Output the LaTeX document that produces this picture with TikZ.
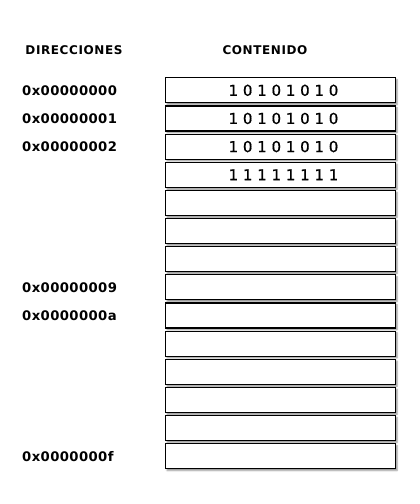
\documentclass[tikz,border=0pt]{standalone}
\usepackage{fontspec}
\setmainfont{DejaVu Sans}
\newfontfamily\dirfont[LetterSpace=3]{DejaVu Sans Bold}
\newfontfamily\cabfont[LetterSpace=5]{DejaVu Sans Bold}
\newfontfamily\bitsfont[FakeBold=0.6]{DejaVu Sans}
\usetikzlibrary{positioning, shadows.blur}

\tikzset{
  celda/.style={draw=black, line width=1.1pt, fill=white, inner sep=0pt,
    minimum width=230pt, minimum height=25pt,
    blur shadow={shadow xshift=1.5pt, shadow yshift=-1.8pt,
      shadow blur radius=1.6pt, shadow opacity=45}},
  bits/.style={inner sep=0pt, font=\bitsfont\fontsize{15pt}{17pt}\selectfont},
  dir/.style={inner sep=0pt, anchor=west, text height=9.5pt, text depth=0pt,
    font=\dirfont\fontsize{13.2pt}{15pt}\selectfont},
  cabecera/.style={inner sep=0pt, text height=8.7pt, text depth=0pt,
    font=\cabfont\fontsize{12pt}{14pt}\selectfont}
}

\begin{document}
\begin{tikzpicture}[x=1pt,y=-1pt]
\useasboundingbox (0,0) rectangle (420,504);

% Cabeceras
\node[cabecera] (direcciones) at (74,50) {DIRECCIONES};
\node[cabecera] (contenido) at (265,50.5) {CONTENIDO};

% Celdas de memoria
\foreach \i in {0,...,13}
  \node[celda] (celda\i) at (280.5,90.3+28.15*\i) {};

% Contenido de las celdas
\foreach \i/\b in {0/1 0 1 0 1 0 1 0, 1/1 0 1 0 1 0 1 0, 2/1 0 1 0 1 0 1 0, 3/1 1 1 1 1 1 1 1}
  \node[bits] (bits\i) at ([xshift=3pt]celda\i.center) {\b};

% Direcciones
\foreach \i/\d in {0/0x00000000, 1/0x00000001, 2/0x00000002, 7/0x00000009, 8/0x0000000a, 13/0x0000000f}
  \node[dir] (dir\i) at (22,0 |- celda\i) {\d};
\end{tikzpicture}
\end{document}
